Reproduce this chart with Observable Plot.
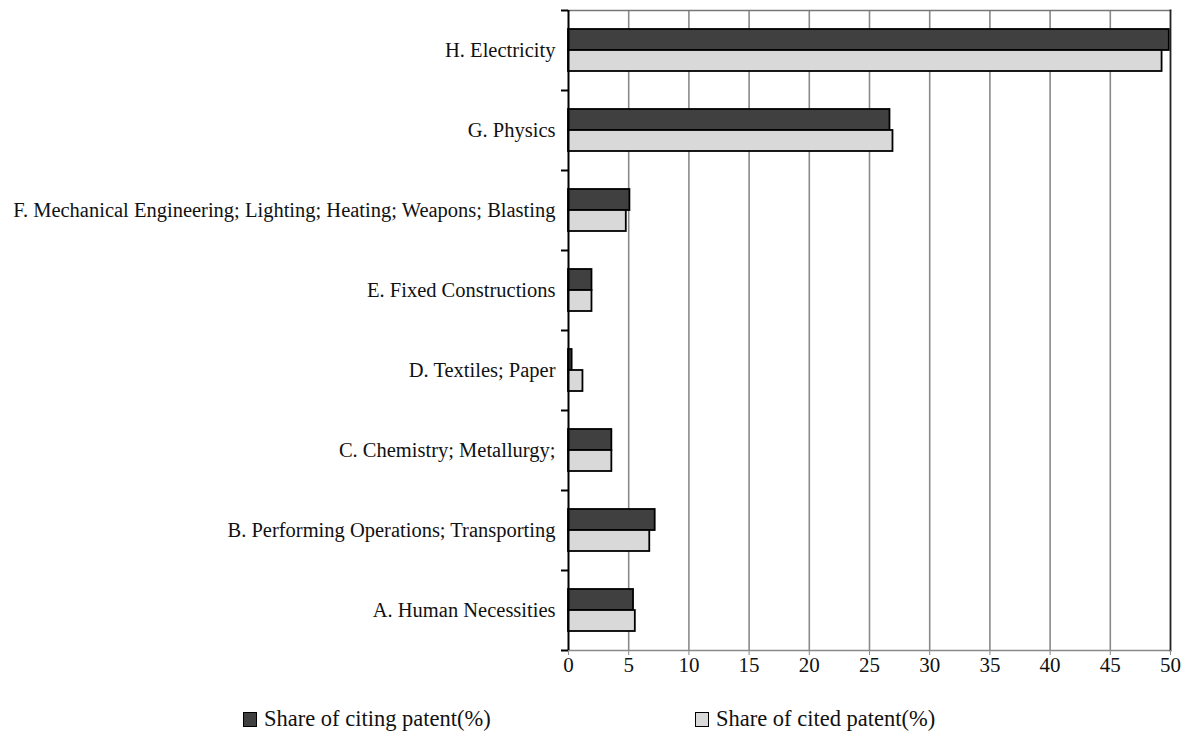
<!DOCTYPE html>
<html>
<head>
<meta charset="utf-8">
<script src="https://cdn.jsdelivr.net/npm/d3@7"></script>
<script src="https://cdn.jsdelivr.net/npm/@observablehq/plot@0.6"></script>
<style>
  html, body { margin: 0; padding: 0; background: #fff; }
  #wrap { width: 1192px; font-family: "Liberation Serif", "Times New Roman", serif; }
  #chart svg, #chart svg text { font-family: "Liberation Serif", "Times New Roman", serif !important; }
  #legend { position: relative; width: 1192px; height: 39px; font-size: 22.5px; color: #111; }
  .item { position: absolute; top: 6px; display: flex; align-items: center; white-space: nowrap; }
  .sw { width: 12px; height: 13px; border: 1.5px solid #000; margin-right: 7px; box-sizing: content-box; }
</style>
</head>
<body>
<div id="wrap">
  <div id="chart"></div>
  <div id="legend"></div>
</div>
<script>
const categories = [
  "H. Electricity",
  "G. Physics",
  "F. Mechanical Engineering; Lighting; Heating; Weapons; Blasting",
  "E. Fixed Constructions",
  "D. Textiles; Paper",
  "C. Chemistry; Metallurgy;",
  "B. Performing Operations; Transporting",
  "A. Human Necessities"
];
const citing = [49.9, 26.7, 5.1, 1.95, 0.3, 3.6, 7.2, 5.4];
const cited  = [49.3, 26.95, 4.8, 1.95, 1.2, 3.6, 6.75, 5.55];
const xTicks = [0, 5, 10, 15, 20, 25, 30, 35, 40, 45, 50];
const seriesNames = ["Share of citing patent(%)", "Share of cited patent(%)"];
const seriesColors = ["#404040", "#d9d9d9"];

const citingData = categories.map((c, i) => ({category: c, value: citing[i]}));
const citedData = categories.map((c, i) => ({category: c, value: cited[i]}));

const serif = "Liberation Serif, Times New Roman, serif";

const chart = Plot.plot({
  width: 1192,
  height: 700,
  marginLeft: 568,
  marginRight: 22,
  marginTop: 10,
  marginBottom: 50,
  style: {fontFamily: serif, fontSize: "20px", color: "#111", background: "#fff"},
  x: {domain: [0, 50], ticks: xTicks},
  y: {type: "band", domain: categories, padding: 0},
  marks: [
    Plot.ruleX(xTicks.filter(d => d > 0 && d < 50), {stroke: "#8a8a8a", strokeWidth: 1.6}),
    Plot.frame({anchor: "top", stroke: "#777", strokeWidth: 1.5}),
    Plot.frame({anchor: "bottom", stroke: "#8a8a8a", strokeWidth: 1.6}),
    Plot.frame({anchor: "right", stroke: "#222", strokeWidth: 1.8}),
    Plot.barX(citingData, {x: "value", y: "category", fill: seriesColors[0], stroke: "#000", strokeWidth: 1.8, insetTop: 19, insetBottom: 40}),
    Plot.barX(citedData, {x: "value", y: "category", fill: seriesColors[1], stroke: "#000", strokeWidth: 1.8, insetTop: 40, insetBottom: 19}),
    Plot.ruleX([0], {stroke: "#000", strokeWidth: 2}),
    Plot.ruleY(categories, {y: d => d, dy: -40, x1: 0, x2: 0, insetLeft: -7, stroke: "#000", strokeWidth: 2}),
    Plot.ruleY(categories.slice(-1), {y: d => d, dy: 40, x1: 0, x2: 0, insetLeft: -7, stroke: "#000", strokeWidth: 2}),
    Plot.axisY({tickSize: 0, tickPadding: 13, label: null, fontSize: 20.5, fontFamily: serif}),
    Plot.axisX({ticks: xTicks, tickSize: 5, tickPadding: 2, stroke: "#8a8a8a", label: null, fontSize: 21, fontFamily: serif, tickFormat: d3.format("d")})
  ]
});
document.getElementById("chart").appendChild(chart);

const legend = document.getElementById("legend");
const lefts = [243, 695];
seriesNames.forEach((name, i) => {
  const item = document.createElement("div");
  item.className = "item";
  item.style.left = lefts[i] + "px";
  const sw = document.createElement("span");
  sw.className = "sw";
  sw.style.background = seriesColors[i];
  const t = document.createElement("span");
  t.textContent = name;
  item.appendChild(sw);
  item.appendChild(t);
  legend.appendChild(item);
});
</script>
</body>
</html>
